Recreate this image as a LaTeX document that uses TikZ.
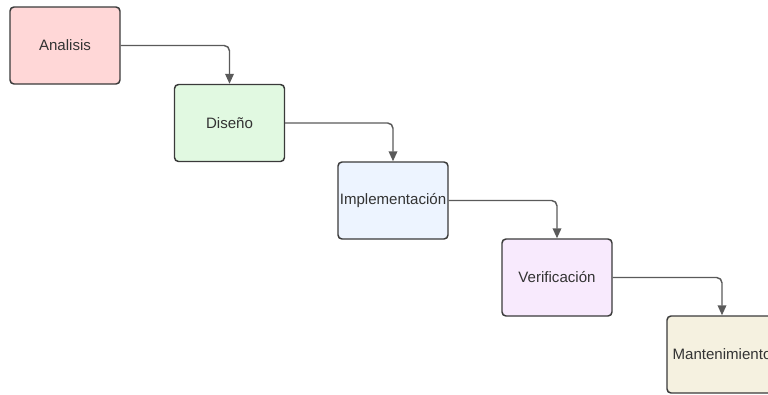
\documentclass[tikz,border=0pt]{standalone}
\usepackage{fontspec}
\setmainfont{Liberation Sans}
\usetikzlibrary{arrows.meta}
\definecolor{boxline}{HTML}{3A3A3A}
\definecolor{arrowline}{HTML}{5A5A5A}
\definecolor{textgray}{HTML}{333333}
\definecolor{fillA}{HTML}{FFD7D7}
\definecolor{fillB}{HTML}{E1F9E1}
\definecolor{fillC}{HTML}{EDF4FF}
\definecolor{fillD}{HTML}{F8EAFD}
\definecolor{fillE}{HTML}{F5F1E0}
\tikzset{
  phase/.style={draw=boxline, line width=1.1pt, rounded corners=3pt,
    minimum width=82.5pt, minimum height=57.75pt, inner sep=0pt,
    text=textgray, font=\fontsize{11.3pt}{13pt}\selectfont},
  flow/.style={draw=arrowline, line width=1.1pt, rounded corners=4pt,
    -{Triangle[length=7.5pt,width=6.5pt]}}
}
\begin{document}
\begin{tikzpicture}[x=0.75pt,y=-0.75pt]
  \useasboundingbox (0,0) rectangle (768,394);
  \clip (0,0) rectangle (768,394);
  \node[phase, fill=fillA] (analisis) at (65,45.5) {Analisis};
  \node[phase, fill=fillB] (diseno) at (229.5,123) {Diseño};
  \node[phase, fill=fillC] (impl) at (393,200.5) {Implementación};
  \node[phase, fill=fillD] (verif) at (557,277.5) {Verificación};
  \node[phase, fill=fillE] (mant) at (722,354.5) {Mantenimiento};
  \draw[flow] (analisis.east) -| (diseno.north);
  \draw[flow] (diseno.east) -| (impl.north);
  \draw[flow] (impl.east) -| (verif.north);
  \draw[flow] (verif.east) -| (mant.north);
\end{tikzpicture}
\end{document}
